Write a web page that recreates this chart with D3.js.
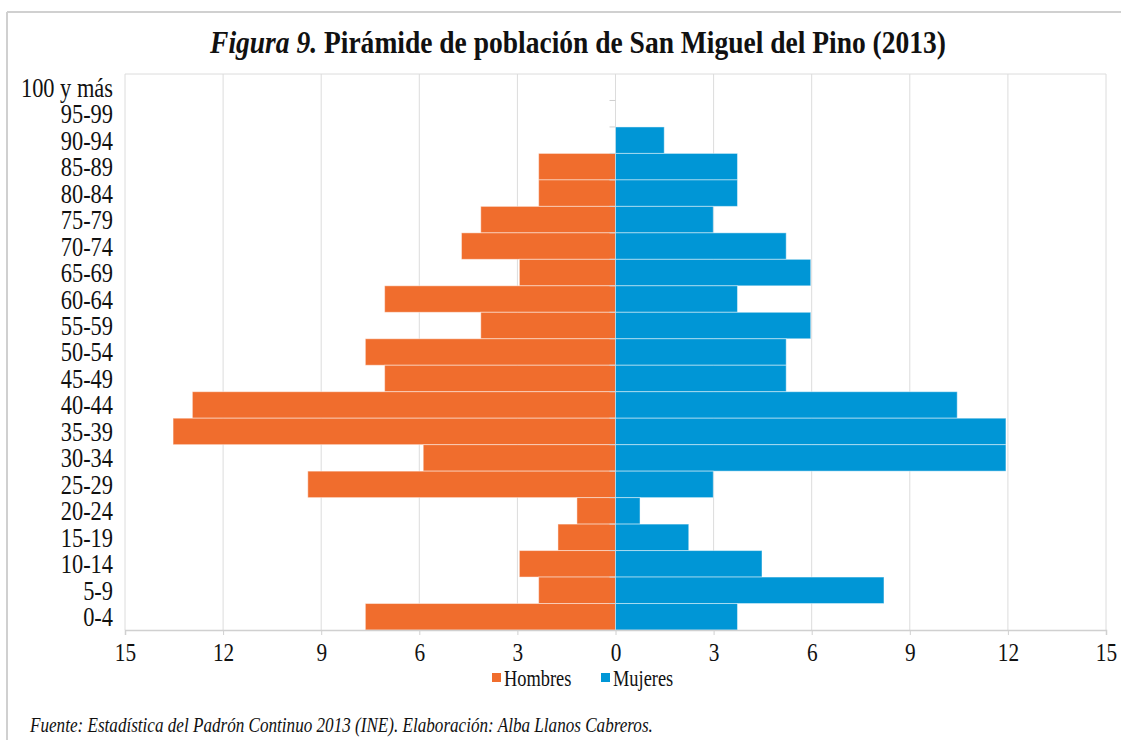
<!DOCTYPE html>
<html>
<head>
<meta charset="utf-8">
<script src="https://cdn.jsdelivr.net/npm/d3@7"></script>
<style>
  html, body { margin: 0; padding: 0; background: #fff; }
  svg text { font-family: 'Liberation Serif', 'DejaVu Serif', 'Times New Roman', serif; }
</style>
</head>
<body>
<svg id="chart" width="1123" height="740"></svg>
<script>
// age groups, top to bottom as in the figure
const ageGroups = ['100 y más', '95-99', '90-94', '85-89', '80-84', '75-79', '70-74',
  '65-69', '60-64', '55-59', '50-54', '45-49', '40-44', '35-39', '30-34', '25-29',
  '20-24', '15-19', '10-14', '5-9', '0-4'];

// % of each sex
const hombres = [0, 0, 0, 2.35, 2.35, 4.12, 4.71, 2.94, 7.06, 4.12, 7.65, 7.06,
  12.94, 13.53, 5.88, 9.41, 1.18, 1.76, 2.94, 2.35, 7.65];
const mujeres = [0, 0, 1.49, 3.73, 3.73, 2.99, 5.22, 5.97, 3.73, 5.97, 5.22, 5.22,
  10.45, 11.94, 11.94, 2.99, 0.75, 2.24, 4.48, 8.21, 3.73];

const xTicks = [-15, -12, -9, -6, -3, 0, 3, 6, 9, 12, 15];
const series = [
  { name: 'Hombres', color: '#f06d2d', values: hombres, sign: -1 },
  { name: 'Mujeres', color: '#0096d6', values: mujeres, sign: 1 },
];

const serif = "'Liberation Serif', 'DejaVu Serif', serif";
const svg = d3.select('#chart');
const gridColor = '#dcdcdc';

// the scanned figure has horizontally squeezed type
const placeText = (sel, tx, ty, sx) => sel.attr('transform', `translate(${tx},${ty}) scale(${sx},1)`);

// outer frame (top + left edges visible in the scan)
svg.append('line').attr('x1', 7).attr('x2', 1121).attr('y1', 12).attr('y2', 12)
  .attr('stroke', '#d0d0d0').attr('stroke-width', 2);
svg.append('line').attr('x1', 7).attr('x2', 7).attr('y1', 12).attr('y2', 740)
  .attr('stroke', '#d0d0d0').attr('stroke-width', 2);

// title
const title = svg.append('text')
  .attr('text-anchor', 'middle')
  .attr('font-family', serif)
  .style('font-size', '32px')
  .style('font-weight', 'bold')
  .attr('fill', '#111')
  .call(placeText, 578, 53, 0.86);
title.append('tspan').style('font-style', 'italic').text('Figura 9.');
title.append('tspan').text(' Pirámide de población de San Miguel del Pino (2013)');

const x = d3.scaleLinear().domain([-15, 15]).range([125, 1106]);
const y = d3.scaleBand().domain(ageGroups).range([74, 630]).padding(0);

// vertical gridlines + top border of plot
svg.append('g')
  .selectAll('line')
  .data(xTicks)
  .join('line')
  .attr('x1', (d) => x(d)).attr('x2', (d) => x(d))
  .attr('y1', 74).attr('y2', 630)
  .attr('stroke', gridColor);
svg.append('line').attr('x1', x(-15)).attr('x2', x(15)).attr('y1', 74).attr('y2', 74)
  .attr('stroke', gridColor);

// bars
series.forEach((s) => {
  svg.append('g')
    .selectAll('rect')
    .data(ageGroups.map((g, i) => ({ group: g, value: s.values[i] })))
    .join('rect')
    .attr('x', (d) => (s.sign < 0 ? x(-d.value) : x(0)))
    .attr('y', (d) => y(d.group))
    .attr('width', (d) => Math.abs(x(d.value) - x(0)))
    .attr('height', y.bandwidth())
    .attr('fill', s.color)
    .attr('stroke', (d) => (d.value > 0 ? 'rgba(255,255,255,0.45)' : 'none'))
    .attr('stroke-width', 1);
});

// category ticks at the zero line
svg.append('g')
  .selectAll('line')
  .data(ageGroups.slice(1))
  .join('line')
  .attr('x1', x(0) - 6).attr('x2', x(0))
  .attr('y1', (d) => y(d)).attr('y2', (d) => y(d))
  .attr('stroke', '#cfcfcf');

// category labels
svg.append('g')
  .selectAll('text')
  .data(ageGroups)
  .join('text')
  .attr('dy', '0.35em')
  .attr('text-anchor', 'end')
  .attr('font-family', serif)
  .style('font-size', '27px')
  .attr('fill', '#111')
  .attr('transform', (d) => `translate(113,${y(d) + y.bandwidth() / 2}) scale(0.83,1)`)
  .text((d) => d);

// x axis
const xAxis = svg.append('g')
  .attr('transform', 'translate(0,630)')
  .call(d3.axisBottom(x).tickValues(xTicks).tickFormat((d) => Math.abs(d)).tickSize(5).tickPadding(8));
xAxis.attr('font-family', serif);
xAxis.select('.domain').attr('stroke', '#d0d0d0').attr('stroke-width', 1.5);
xAxis.selectAll('.tick line').attr('stroke', '#d0d0d0');
xAxis.selectAll('.tick text')
  .attr('font-family', serif)
  .style('font-size', '26px')
  .attr('fill', '#111')
  .attr('transform', 'scale(0.82,1)');

// legend
const legend = svg.append('g').attr('transform', 'translate(0,678)');
const legendX = [492, 601];
series.forEach((s, i) => {
  legend.append('rect')
    .attr('x', legendX[i]).attr('y', -5)
    .attr('width', 9).attr('height', 9)
    .attr('fill', s.color);
  legend.append('text')
    .attr('dy', '0.35em')
    .attr('font-family', serif)
    .style('font-size', '23px')
    .attr('fill', '#111')
    .call(placeText, legendX[i] + 12, 0, 0.8)
    .text(s.name);
});

// source note
svg.append('text')
  .attr('font-family', serif)
  .style('font-size', '20.5px')
  .style('font-style', 'italic')
  .attr('fill', '#111')
  .call(placeText, 30, 732, 0.835)
  .text('Fuente: Estadística del Padrón Continuo 2013 (INE). Elaboración: Alba Llanos Cabreros.');
</script>
</body>
</html>
